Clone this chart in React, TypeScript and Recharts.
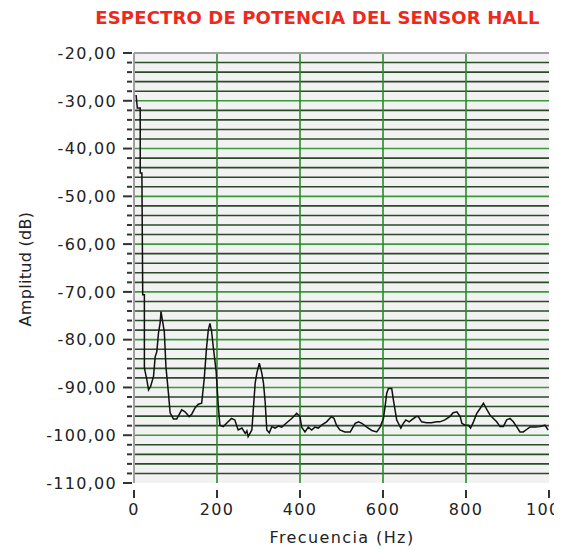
import React from 'react';
import { LineChart, Line, XAxis, YAxis, ReferenceLine, ReferenceArea } from 'recharts';

const freqHz = [
  5, 8, 15, 15, 19, 21, 25, 25, 31, 35,
  40, 47, 51, 55, 59, 63, 65, 69, 73, 77,
  83, 87, 95, 103, 115, 123, 133, 139, 147, 155,
  163, 169, 175, 179, 183, 187, 191, 198, 203, 207,
  215, 223, 235, 243, 251, 260, 268, 272, 275, 284,
  288, 292, 296, 302, 308, 312, 316, 320, 326, 332,
  340, 348, 356, 368, 380, 392, 400, 404, 412, 420,
  428, 436, 444, 452, 464, 476, 482, 488, 496, 508,
  521, 533, 541, 549, 561, 573, 585, 593, 601, 605,
  609, 613, 621, 625, 629, 633, 637, 643, 649, 655,
  663, 669, 680, 685, 693, 705, 717, 729, 737, 749,
  761, 769, 778, 786, 790, 798, 806, 811, 818, 826,
  834, 842, 850, 858, 866, 874, 882, 890, 898, 906,
  914, 922, 930, 938, 946, 954, 966, 978, 990, 998,
];

const amplitudeDb = [
  -28.8, -31.5, -31.5, -45.1, -45.1, -70.6, -70.6, -85.9, -88.4, -90.5,
  -89.8, -87.7, -83.6, -82.5, -78.6, -76.5, -74.1, -76.2, -78.3, -85.7,
  -91.2, -95.3, -96.6, -96.6, -94.7, -95.1, -96.1, -95.6, -94.3, -93.5,
  -93.3, -88.4, -81.5, -78.0, -76.6, -78.3, -81.5, -86.7, -93.7, -97.9,
  -98.2, -97.5, -96.5, -96.8, -98.9, -98.5, -99.6, -99.1, -100.3, -98.9,
  -94.0, -89.1, -87.0, -84.9, -87.0, -89.1, -93.0, -98.9, -99.5, -98.2,
  -98.5, -98.1, -98.3, -97.4, -96.5, -95.4, -96.1, -98.3, -99.3, -98.3,
  -98.9, -98.3, -98.5, -97.9, -97.2, -96.1, -96.5, -97.9, -98.9, -99.3,
  -99.3, -97.5, -97.2, -97.5, -98.3, -99.0, -99.3, -98.3, -96.5, -94.0,
  -91.2, -90.2, -90.2, -92.6, -94.7, -96.8, -97.5, -98.5, -97.5, -96.8,
  -97.2, -96.8, -96.1, -96.1, -97.2, -97.4, -97.4, -97.2, -97.2, -96.8,
  -96.1, -95.3, -95.1, -96.1, -97.5, -97.9, -97.9, -98.5, -97.2, -95.4,
  -94.4, -93.3, -94.6, -95.8, -96.5, -97.2, -98.2, -98.2, -96.8, -96.5,
  -97.2, -98.2, -99.3, -99.3, -98.8, -98.3, -98.3, -98.2, -97.9, -98.9,
];

const xTicks = [0, 200, 400, 600, 800, 1000];
const yTicks = [
  -110, -108, -106, -104, -102, -100, -98, -96, -94, -92,
  -90, -88, -86, -84, -82, -80, -78, -76, -74, -72,
  -70, -68, -66, -64, -62, -60, -58, -56, -54, -52,
  -50, -48, -46, -44, -42, -40, -38, -36, -34, -32,
  -30, -28, -26, -24, -22, -20,
];

const TITLE = 'ESPECTRO DE POTENCIA DEL SENSOR HALL';
const X_LABEL = 'Frecuencia (Hz)';
const Y_LABEL = 'Amplitud (dB)';

const data = freqHz.map((f, i) => ({ f, a: amplitudeDb[i] }));

const FONT = '"DejaVu Sans", Verdana, sans-serif';
const isMajor = (v: number) => Math.abs(v % 10) === 0;
const fmt = (v: number) => v.toFixed(2).replace('.', ',');

const innerY = yTicks.filter((v) => v > -110 && v < -20);
const minorLines = innerY.filter((v) => !isMajor(v));
const majorLines = innerY.filter((v) => isMajor(v));
const vLines = xTicks.filter((v) => v > 0 && v < 1000);

const YTick = (props: any) => {
  const { x, y, payload } = props;
  const v = payload.value as number;
  const major = isMajor(v);
  return (
    <g>
      <line x1={x - (major ? 11 : 7)} x2={x - 2} y1={y} y2={y} stroke="#333" strokeWidth={2} />
      {major && (
        <text
          x={x - 17}
          y={y}
          dy="0.36em"
          textAnchor="end"
          fontFamily={FONT}
          fontSize={16}
          letterSpacing={1.3}
          fill="#222"
        >
          {fmt(v)}
        </text>
      )}
    </g>
  );
};

const XTick = (props: any) => {
  const { x, y, payload } = props;
  return (
    <g>
      <line x1={x} x2={x} y1={y + 7} y2={y + 15} stroke="#333" strokeWidth={2} />
      <text
        x={x}
        y={y + 26}
        dy="0.36em"
        textAnchor="middle"
        fontFamily={FONT}
        fontSize={16}
        letterSpacing={1.3}
        fill="#222"
      >
        {payload.value}
      </text>
    </g>
  );
};

export default function App() {
  return (
    <div style={{ position: 'relative', width: 554, height: 542, background: '#fff' }}>
      <div
        style={{
          position: 'absolute',
          left: 309.5,
          top: 0.5,
          transform: 'translateX(-50%)',
          whiteSpace: 'nowrap',
          fontFamily: FONT,
          fontWeight: 'bold',
          fontSize: 18,
          lineHeight: '18px',
          letterSpacing: 0.15,
          color: '#f0281c',
        }}
      >
        {TITLE}
      </div>
      <div
        style={{
          position: 'absolute',
          left: 18,
          top: 261,
          transform: 'translate(-50%, -50%) rotate(-90deg)',
          whiteSpace: 'nowrap',
          fontFamily: FONT,
          fontSize: 16,
          lineHeight: '16px',
          letterSpacing: 0.3,
          color: '#222',
        }}
      >
        {Y_LABEL}
      </div>
      <div
        style={{
          position: 'absolute',
          left: 334,
          top: 530,
          transform: 'translate(-50%, -50%)',
          whiteSpace: 'nowrap',
          fontFamily: FONT,
          fontSize: 16,
          lineHeight: '16px',
          letterSpacing: 1.4,
          color: '#222',
        }}
      >
        {X_LABEL}
      </div>
      <div style={{ position: 'absolute', left: 0, top: 0 }}>
        <LineChart width={554} height={542} data={data} margin={{ top: 45, right: 13, bottom: 37, left: 0 }}>
          <XAxis
            dataKey="f"
            type="number"
            domain={[0, 1000]}
            ticks={xTicks}
            interval={0}
            tickSize={0}
            tickMargin={0}
            axisLine={false}
            tickLine={false}
            height={30}
            tick={<XTick />}
            allowDataOverflow
          />
          <YAxis
            type="number"
            domain={[-110, -20]}
            ticks={yTicks}
            interval={0}
            tickSize={0}
            tickMargin={0}
            tickLine={false}
            axisLine={{ stroke: '#a0a0a0', strokeWidth: 2 }}
            width={126}
            tick={<YTick />}
            allowDataOverflow
          />
          <ReferenceArea x1={0} x2={1000} y1={-110} y2={-20} fill="#f2f2f2" fillOpacity={1} stroke="none" />
          {minorLines.map((v) => (
            <ReferenceLine key={'mn' + v} y={v} stroke="#2a4a2a" strokeWidth={1.6} />
          ))}
          {majorLines.map((v) => (
            <ReferenceLine key={'mj' + v} y={v} stroke="#3a9a3a" strokeWidth={1.6} />
          ))}
          {vLines.map((v) => (
            <ReferenceLine key={'v' + v} x={v} stroke="#2a8a2a" strokeWidth={1.6} />
          ))}
          <ReferenceLine y={-20} stroke="#a0a0a0" strokeWidth={2} />
          <Line
            dataKey="a"
            type="linear"
            stroke="#111"
            strokeWidth={1.5}
            dot={false}
            isAnimationActive={false}
          />
        </LineChart>
      </div>
    </div>
  );
}
